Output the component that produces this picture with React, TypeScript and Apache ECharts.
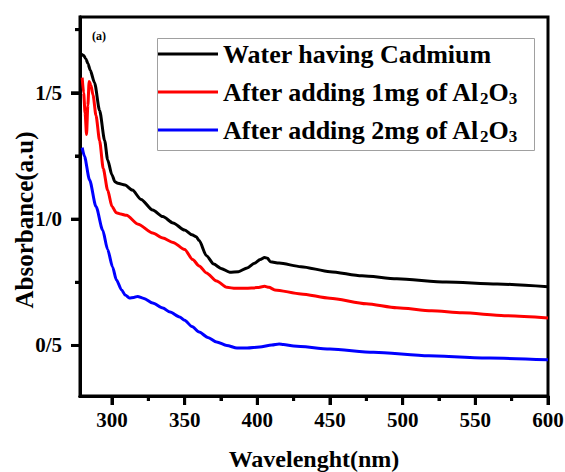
import React, { useEffect, useRef } from 'react';
import * as echarts from 'echarts';

const seriesNames = [
  'Water having Cadmium',
  'After adding 1mg of Al2O3',
  'After adding 2mg of Al2O3',
];
const seriesColors = ['#000000', '#ff0000', '#0000ff'];

const X_MIN = 278;
const X_MAX = 600;
const Y_MIN = 0.3;
const Y_MAX = 1.8;

const xTickValues = [300, 350, 400, 450, 500, 550, 600];
const xMinorTicks = [325, 375, 425, 475, 525, 575];
const yTickValues = [0.5, 1.0, 1.5];
const yMinorTicks = [0.75, 1.25, 1.75];

const blackData: [number, number][] = [
  [279, 1.652], [280.5, 1.648], [282, 1.635], [283.5, 1.615], [285, 1.59], [288, 1.54],
  [291.5, 1.43], [295, 1.31], [297, 1.235], [300, 1.175], [302, 1.148], [304, 1.142],
  [309, 1.135], [314, 1.115], [320, 1.078], [328, 1.036], [335, 1.01], [342, 0.985],
  [350, 0.957], [355, 0.938], [358, 0.93], [360, 0.915], [365, 0.855], [370, 0.822],
  [375, 0.805], [381, 0.79], [387, 0.792], [393, 0.807], [398, 0.825], [402, 0.84],
  [405, 0.848], [407, 0.845], [409, 0.831], [415, 0.826], [430, 0.812], [450, 0.792],
  [472, 0.776], [496, 0.764], [530, 0.751], [565, 0.743], [600, 0.732],
];

const redData: [number, number][] = [
  [279.5, 1.56], [280.5, 1.5], [281.5, 1.42], [282.5, 1.335], [283.4, 1.45], [284.3, 1.545],
  [285.5, 1.53], [287, 1.49], [289, 1.41], [291.5, 1.31], [294, 1.2], [297, 1.115],
  [300, 1.05], [303, 1.025], [306, 1.02], [310, 1.015], [318, 0.98], [328, 0.945],
  [335, 0.925], [342, 0.908], [350, 0.88], [355.5, 0.84], [360, 0.815], [365, 0.787],
  [372, 0.755], [379, 0.73], [385, 0.726], [392, 0.726], [400, 0.729], [405, 0.734],
  [408, 0.73], [412, 0.72], [430, 0.704], [450, 0.687], [475, 0.665], [496, 0.649],
  [520, 0.637], [541, 0.629], [570, 0.618], [600, 0.609],
];

const blueData: [number, number][] = [
  [279.5, 1.283], [281, 1.25], [284.6, 1.155], [289, 1.05], [293.6, 0.957], [297, 0.88],
  [300.4, 0.811], [303, 0.76], [306.6, 0.72], [309, 0.7], [312, 0.688], [315, 0.69],
  [317.6, 0.694], [322, 0.686], [328, 0.668], [335, 0.648], [340, 0.632], [346.5, 0.613],
  [350, 0.6], [355, 0.575], [360, 0.553], [366, 0.532], [372, 0.514], [379, 0.5],
  [386, 0.49], [393, 0.49], [401.6, 0.494], [410, 0.502], [415, 0.506], [418, 0.504],
  [425, 0.498], [450, 0.486], [480, 0.473], [518, 0.459], [560, 0.45], [600, 0.443],
];

const allData = [blackData, redData, blueData];

const FONT = "'Liberation Serif', 'Times New Roman', serif";

const MAJOR_LEN = 9;
const MINOR_LEN = 5;

export default function App() {
  const ref = useRef<HTMLDivElement>(null);
  useEffect(() => {
    if (!ref.current) return;
    const chart = echarts.init(ref.current, undefined, { renderer: 'svg' });

    const tickStyle = { color: '#000', width: 3 };
    const baseGraphics: any[] = [
      {
        id: 'legendBox', type: 'rect', left: 155, top: 36, z: 100,
        shape: { width: 377, height: 112 },
        style: { fill: 'none', stroke: '#a0a0a0', lineWidth: 1 },
      },
      {
        id: 'panelTag', type: 'text', left: 92, top: 30,
        style: { text: '(a)', fontFamily: FONT, fontWeight: 'bold', fontSize: 12, fill: '#000' },
      },
      {
        id: 'yTitle', type: 'text', x: 24, y: 220, rotation: Math.PI / 2,
        style: {
          text: 'Absorbance(a.u)', fontFamily: FONT, fontWeight: 'bold', fontSize: 25, fill: '#000',
          align: 'center', verticalAlign: 'middle',
        },
      },
    ];

    chart.setOption({
      animation: false,
      grid: {
        left: 80, top: 17, width: 468, height: 379,
        outerBoundsMode: 'none', containLabel: false,
        show: true, borderColor: '#000', borderWidth: 3, backgroundColor: 'transparent',
      },
      xAxis: [
        {
          type: 'value', min: X_MIN, max: X_MAX, position: 'bottom',
          name: 'Wavelenght(nm)', nameLocation: 'middle', nameGap: 51,
          nameTextStyle: { fontFamily: FONT, fontWeight: 'bold', fontSize: 24, color: '#000' },
          axisLine: { show: true, lineStyle: { color: '#000', width: 3 } },
          axisTick: { show: true, inside: false, length: MAJOR_LEN, customValues: xTickValues, lineStyle: tickStyle },
          axisLabel: {
            show: true, customValues: xTickValues, margin: 13,
            fontFamily: FONT, fontWeight: 'bold', fontSize: 21, color: '#000',
          },
          splitLine: { show: false },
        },
        {
          type: 'value', min: X_MIN, max: X_MAX, position: 'bottom', offset: 0,
          axisLine: { show: true, lineStyle: { color: '#000', width: 3 } },
          axisTick: { show: true, inside: false, length: MINOR_LEN, customValues: xMinorTicks, lineStyle: tickStyle },
          axisLabel: { show: false },
          splitLine: { show: false },
        },
      ],
      yAxis: [
        {
          type: 'value', min: Y_MIN, max: Y_MAX, position: 'left',
          axisLine: { show: true, lineStyle: { color: '#000', width: 3 } },
          axisTick: { show: true, inside: false, length: MAJOR_LEN, customValues: yTickValues, lineStyle: tickStyle },
          axisLabel: {
            show: true, customValues: yTickValues, margin: 18,
            fontFamily: FONT, fontWeight: 'bold', fontSize: 21, color: '#000',
            formatter: (v: number) => v.toFixed(1).replace('.', '/'),
          },
          splitLine: { show: false },
        },
        {
          type: 'value', min: Y_MIN, max: Y_MAX, position: 'left', offset: 0,
          axisLine: { show: true, lineStyle: { color: '#000', width: 3 } },
          axisTick: { show: true, inside: false, length: MINOR_LEN, customValues: yMinorTicks, lineStyle: tickStyle },
          axisLabel: { show: false },
          splitLine: { show: false },
        },
      ],
      legend: {
        orient: 'vertical', left: 155, top: 36,
        padding: [3, 8, 6, 2], itemGap: 8, itemWidth: 61, itemHeight: 3,
        icon: 'rect',
        data: seriesNames,
        textStyle: {
          fontFamily: FONT, fontWeight: 'bold', fontSize: 26, color: '#000', lineHeight: 30,
          rich: {
            s: { fontFamily: FONT, fontWeight: 'bold', fontSize: 17, color: '#000', lineHeight: 13, verticalAlign: 'bottom' },
          },
        },
        formatter: (name: string) => name.replace('Al2O3', 'Al{s|2}O{s|3}'),
      },
      graphic: baseGraphics,
      series: allData.map((d, i) => ({
        type: 'line', name: seriesNames[i], data: d,
        xAxisIndex: 0, yAxisIndex: 0,
        showSymbol: false, symbol: 'none',
        smooth: 0.25, smoothMonotone: 'x',
        lineStyle: { color: seriesColors[i], width: 3 },
        itemStyle: { color: seriesColors[i] },
      })),
    });

    try {
      const marks: any[] = [];
      const addX = (v: number, len: number, k: string) => {
        const p = chart.convertToPixel({ xAxisIndex: 0, yAxisIndex: 0 }, [v, Y_MIN]) as number[];
        if (!p || !isFinite(p[0]) || !isFinite(p[1])) return;
        marks.push({
          id: k, type: 'rect', z: 60,
          shape: { x: p[0] - 1.5, y: p[1], width: 3, height: len },
          style: { fill: '#000' },
        });
      };
      const addY = (v: number, len: number, k: string) => {
        const p = chart.convertToPixel({ xAxisIndex: 0, yAxisIndex: 0 }, [X_MIN, v]) as number[];
        if (!p || !isFinite(p[0]) || !isFinite(p[1])) return;
        marks.push({
          id: k, type: 'rect', z: 60,
          shape: { x: p[0] - len, y: p[1] - 1.5, width: len, height: 3 },
          style: { fill: '#000' },
        });
      };
      xTickValues.forEach((v, i) => addX(v, MAJOR_LEN, 'xt' + i));
      xMinorTicks.forEach((v, i) => addX(v, MINOR_LEN, 'xm' + i));
      yTickValues.forEach((v, i) => addY(v, MAJOR_LEN, 'yt' + i));
      yMinorTicks.forEach((v, i) => addY(v, MINOR_LEN, 'ym' + i));
      if (marks.length) chart.setOption({ graphic: [...baseGraphics, ...marks] });
    } catch (e) {
      // keep the chart as drawn
    }

    return () => chart.dispose();
  }, []);
  return (
    <div
      ref={ref}
      style={{ position: 'absolute', left: 0, top: 0, width: 565, height: 472, background: '#fff' }}
    />
  );
}
